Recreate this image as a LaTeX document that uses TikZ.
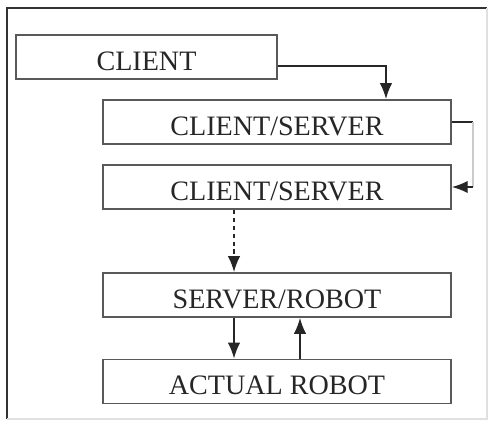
\documentclass[tikz,border=0pt]{standalone}
\usepackage{fontspec}
\setmainfont{Liberation Serif}
\usetikzlibrary{arrows.meta}
\tikzstyle{block}=[rectangle,draw=black!65,line width=1.1pt,align=center,font=\fontsize{16}{18}\selectfont,text=black!85,minimum width=6.96cm,minimum height=0.88cm,text height=15pt,text depth=0pt,inner sep=0pt]
\tikzstyle{link}=[line width=0.8pt,draw=black!85]

\begin{document}
\begin{tikzpicture}[>={Latex[length=9pt,width=7pt]},x=0.02cm,y=-0.02cm]
	\useasboundingbox (0,0) rectangle (488,421);
	% frame
	\draw[black!80,line width=1pt] (7,419) -- (7,8) -- (487,8);
	\draw[black!12,line width=1pt] (487,8) -- (487,419) -- (7,419);

	\node[block,minimum width=5.22cm] (client) at (146.5,57) {CLIENT};
	\node[block] (cs1) at (277,122) {CLIENT/SERVER};
	\node[block] (cs2) at (277,187) {CLIENT/SERVER};
	\node[block] (sr) at (277,295) {SERVER/ROBOT};
	\node[block] (ar) at (277,381.5) {ACTUAL ROBOT};

	\draw[link,->] ([yshift=-0.18cm]client.east) -| ([xshift=2.18cm]cs1.north);
	\draw[link] (cs1.east) -- ++(0.42cm,0) coordinate (turn);
	\draw[link,black!20] (turn) -- (turn |- cs2.east);
	\draw[link,->] (turn |- cs2.east) -- (cs2.east);

	% to the robot
	\draw[link,->,dash pattern=on 2.5pt off 2pt] ([xshift=-0.86cm]cs2.south) -- ([xshift=-0.86cm]sr.north);
	\draw[link,->] ([xshift=-0.86cm]sr.south) -- ([xshift=-0.86cm]ar.north);
	\draw[link,->] ([xshift=0.46cm]ar.north) -- ([xshift=0.46cm]sr.south);
\end{tikzpicture}
\end{document}
